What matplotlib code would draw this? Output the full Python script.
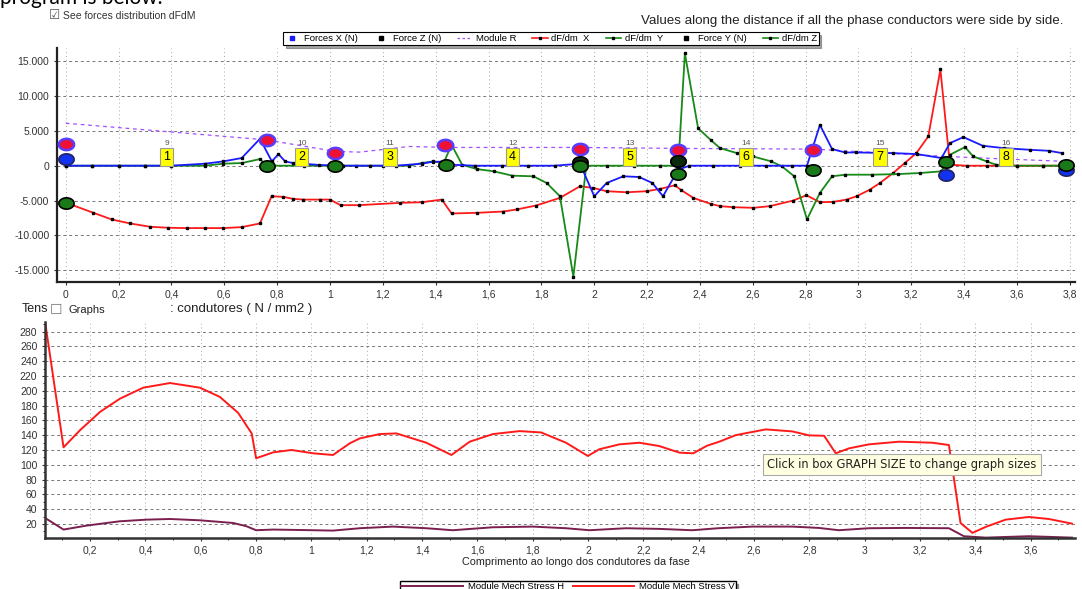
import matplotlib
matplotlib.use("Agg")
import matplotlib.pyplot as plt
from matplotlib.lines import Line2D
from matplotlib.ticker import FuncFormatter, MultipleLocator
import numpy as np

plt.rcParams['font.family'] = ['Liberation Sans', 'DejaVu Sans']

# ---- top chart: forces along the conductors ----
dfx_x = [0, 0.105, 0.174, 0.243, 0.319, 0.388, 0.458, 0.527, 0.596, 0.666, 0.735, 0.779,
         0.823, 0.861, 0.899, 0.962, 1.0, 1.04, 1.11, 1.265, 1.347, 1.423, 1.46, 1.555,
         1.656, 1.706, 1.78, 1.87, 1.946, 1.996, 2.047, 2.123, 2.198, 2.249, 2.305, 2.33,
         2.375, 2.44, 2.476, 2.526, 2.602, 2.665, 2.753, 2.803, 2.854, 2.904, 2.955, 2.993,
         3.043, 3.081, 3.131, 3.175, 3.219, 3.264, 3.31, 3.346, 3.409, 3.485, 3.6, 3.7, 3.787]
dfx_y = [-5300, -6760, -7710, -8280, -8760, -8900, -8950, -8950, -8950, -8810, -8280, -4380,
         -4470, -4760, -4860, -4860, -4860, -5660, -5660, -5330, -5240, -4860, -6850, -6760,
         -6570, -6280, -5710, -4620, -2950, -3190, -3660, -3810, -3660, -3330, -2810, -3520,
         -4620, -5470, -5800, -5950, -6040, -5800, -5000, -4240, -5240, -5190, -4860, -4380,
         -3430, -2480, -1050, 380, 1810, 4190, 13800, 140, 0, 0, 0, 0, 0]

dfy_x = [0, 0.1, 0.2, 0.3, 0.4, 0.527, 0.596, 0.666, 0.735, 0.76, 0.9, 1.0, 1.1, 1.2,
         1.3, 1.347, 1.39, 1.43, 1.46, 1.5, 1.555, 1.62, 1.69, 1.77, 1.82, 1.87, 1.921,
         1.97, 2.05, 2.15, 2.25, 2.318, 2.343, 2.393, 2.44, 2.476, 2.54, 2.6, 2.67, 2.71,
         2.757, 2.805, 2.854, 2.9, 2.95, 3.05, 3.15, 3.232, 3.314, 3.346, 3.403, 3.434,
         3.485, 3.52, 3.6, 3.7, 3.787]
dfy_y = [0, 0, 0, 0, 0, 0, 290, 380, 950, 0, 0, 0, 0, 0,
         0, 380, 620, 380, 3000, 140, -480, -810, -1430, -1520, -2480, -4380, -15900,
         0, 0, 0, 0, 0, 16100, 5380, 3710, 2520, 1810, 1330, 620, -100,
         -1520, -7710, -3900, -1520, -1290, -1290, -1200, -1050, -810, 1570, 2670, 1330,
         620, 140, 0, 0, 0]

dfz_x = [0, 0.1, 0.2, 0.3, 0.4, 0.527, 0.596, 0.666, 0.735, 0.78, 0.805, 0.83, 0.86,
         0.9, 0.96, 1.05, 1.15, 1.25, 1.347, 1.39, 1.42, 1.46, 1.55, 1.65, 1.75, 1.85,
         1.946, 2.0, 2.047, 2.11, 2.17, 2.22, 2.26, 2.318, 2.36, 2.45, 2.55, 2.65, 2.75,
         2.805, 2.854, 2.9, 2.95, 2.99, 3.13, 3.22, 3.314, 3.346, 3.397, 3.47, 3.55, 3.65,
         3.72, 3.77]
dfz_y = [0, 0, 0, 0, 0, 290, 620, 1100, 3860, 620, 1670, 620, 380,
         290, 100, 0, 0, 0, 290, 570, 570, 140, 0, 0, 0, 0,
         290, -4380, -2480, -1520, -1620, -2480, -4380, -570, 0, 0, 0, 0, 0,
         0, 5850, 2380, 1900, 1900, 1810, 1670, 1100, 3240, 4100, 2860, 2520, 2280,
         2140, 1810]

modr_x = [0, 0.38, 0.76, 1.02, 1.113, 1.3, 1.45, 1.946, 2.32, 2.83, 3.33, 3.56, 3.787]
modr_y = [6090, 4900, 3700, 2050, 1950, 2760, 2620, 2620, 2480, 2380, 1330, 950, 620]

red_ov_x = [0, 0.76, 1.02, 1.435, 1.946, 2.318, 2.829]
red_ov_y = [3050, 3620, 1810, 2900, 2380, 2190, 2280]
blue_ov_x = [0, 2.318, 3.333, 3.787]
blue_ov_y = [950, 620, -1290, -570]
green_ov_x = [0, 0.76, 1.02, 1.44, 1.946, 2.318, 2.829, 3.333, 3.787]
green_ov_y = [-5300, 0, 0, 140, 0, -1140, -570, 480, 140]
black_ov_x = [1.946, 2.318]
black_ov_y = [480, 620]

box_pos = [0.382, 0.893, 1.227, 1.691, 2.135, 2.574, 3.081, 3.558]
box_num = ['1', '2', '3', '4', '5', '6', '7', '8']
box_top = ['9', '10', '11', '12', '13', '14', '15', '16']

# ---- bottom chart: mechanical stress ----
sv_x = [0.0375, 0.104, 0.164, 0.236, 0.308, 0.392, 0.489, 0.597, 0.669, 0.735, 0.784,
        0.8, 0.862, 0.928, 1.006, 1.078, 1.138, 1.175, 1.247, 1.307, 1.415, 1.506, 1.572,
        1.656, 1.752, 1.83, 1.92, 1.999, 2.04, 2.113, 2.185, 2.257, 2.33, 2.38, 2.43,
        2.474, 2.534, 2.642, 2.738, 2.799, 2.853, 2.895, 2.943, 3.015, 3.124, 3.244,
        3.304, 3.346, 3.389, 3.437, 3.509, 3.593, 3.665, 3.749]
sv_y = [292.6, 123.6, 146.9, 171.5, 189.4, 204.2, 210.5, 204.2, 191.7, 170.2, 142.4,
        108.8, 116.8, 120, 115.5, 113.2, 128.9, 135.7, 141.5, 142.4, 129.8, 113.2, 131.2,
        141.5, 145.5, 143.7, 129.8, 111.9, 120.9, 127.6, 129.8, 125.3, 116.4, 115.5, 125.8,
        131.2, 140.1, 147.8, 145.1, 139.7, 139.2, 115.5, 122.2, 127.6, 131.2, 129.8,
        126.7, 21.3, 7.9, 16, 25.8, 29.4, 26.7, 20.4]

sh_x = [0.0375, 0.104, 0.188, 0.308, 0.404, 0.489, 0.597, 0.717, 0.765, 0.8, 0.862,
        1.006, 1.078, 1.175, 1.295, 1.415, 1.511, 1.656, 1.8, 1.92, 2.005, 2.137, 2.257,
        2.377, 2.47, 2.594, 2.738, 2.834, 2.906, 3.015, 3.148, 3.304, 3.358, 3.437,
        3.593, 3.749]
sh_y = [28, 12.4, 17.8, 23.6, 25.8, 26.7, 24.9, 21.3, 16.9, 11.5, 12.4,
        11.5, 11, 14.2, 16.4, 14.2, 11.5, 15.5, 16.4, 14.2, 11.5, 14.2, 13.3,
        11.5, 14.2, 16.4, 16.4, 14.6, 11.5, 14.2, 14.6, 14.2, 3.4, 1.5,
        3.4, 1.5]

RED = '#ff1a1a'
GREEN = '#178a17'
BLUE = '#1a1aff'
PURPLE = '#a050ff'
MAROON = '#7a1f4f'

fig = plt.figure(figsize=(10.82, 5.89), dpi=100)
ax1 = fig.add_axes([0.0527, 0.521, 0.941, 0.3977])
ax2 = fig.add_axes([0.0416, 0.0866, 0.952, 0.3667])

comma = FuncFormatter(lambda v, p: ('%g' % round(v, 2)).replace('.', ','))
thousands = FuncFormatter(lambda v, p: '{:,.0f}'.format(v).replace(',', '.') if v != 0 else '0')

mk = dict(marker='s', markersize=2.0, markerfacecolor='black', markeredgecolor='black')
ax1.plot(modr_x, modr_y, color=PURPLE, lw=0.9, ls=(0, (3, 3)))
ax1.plot(dfx_x, dfx_y, color=RED, lw=1.3, **mk)
ax1.plot(dfy_x, dfy_y, color=GREEN, lw=1.3, **mk)
ax1.plot(dfz_x, dfz_y, color=BLUE, lw=1.3, **mk)

t = np.linspace(0, 2 * np.pi, 40)
oval = np.column_stack([1.35 * np.cos(t), np.sin(t)])
ax1.plot(red_ov_x, red_ov_y, ls='none', marker=oval, markersize=11, mfc='#ee1133', mec='#5a3cff', mew=1.8, zorder=5)
ax1.plot(blue_ov_x, blue_ov_y, ls='none', marker=oval, markersize=11, mfc='#1133ee', mec='#222266', mew=1.2, zorder=5)
ax1.plot(black_ov_x, black_ov_y, ls='none', marker=oval, markersize=11, mfc='#0a2a0a', mec='black', mew=1.2, zorder=5)
ax1.plot(green_ov_x, green_ov_y, ls='none', marker=oval, markersize=11, mfc='#1a7a1a', mec='black', mew=1.2, zorder=6)

for p, n, tp in zip(box_pos, box_num, box_top):
    ax1.text(p, 1300, n, ha='center', va='center', fontsize=9, zorder=4,
             bbox=dict(boxstyle='square,pad=0.25', fc='#ffff00', ec='#999999', lw=0.8))
    ax1.text(p, 3200, tp, ha='center', va='center', fontsize=6, color='#555555', zorder=4)

ax1.set_xlim(-0.033, 3.82)
ax1.set_ylim(-16700, 16900)
ax1.xaxis.set_major_locator(MultipleLocator(0.2))
ax1.yaxis.set_major_locator(MultipleLocator(5000))
ax1.xaxis.set_major_formatter(comma)
ax1.yaxis.set_major_formatter(thousands)
ax1.grid(True, axis='y', color='#777777', ls=(0, (3, 3)), lw=0.7)
ax1.grid(True, axis='x', color='#aaaaaa', ls=(0, (1, 3)), lw=0.7)
ax1.tick_params(labelsize=7.5, length=2, colors='#333333')
for s in ['top', 'right']:
    ax1.spines[s].set_visible(False)
for s in ['left', 'bottom']:
    ax1.spines[s].set_linewidth(1.6)
    ax1.spines[s].set_color('#222222')

handles = [
    Line2D([], [], ls='none', marker='s', ms=3, color=BLUE, label='Forces X (N)'),
    Line2D([], [], ls='none', marker='s', ms=3, color='black', label='Force Z (N)'),
    Line2D([], [], color=PURPLE, ls=(0, (2, 2)), lw=0.9, label='Module R'),
    Line2D([], [], color=RED, lw=1.2, marker='s', ms=2, mfc='black', mec='black', label='dF/dm  X'),
    Line2D([], [], color=GREEN, lw=1.2, marker='s', ms=2, mfc='black', mec='black', label='dF/dm  Y'),
    Line2D([], [], ls='none', marker='s', ms=3, color='black', label='Force Y (N)'),
    Line2D([], [], color=GREEN, lw=1.2, marker='s', ms=2, mfc='black', mec='black', label='dF/dm Z'),
]
leg1 = fig.legend(handles=handles, loc='center', bbox_to_anchor=(0.509, 0.934), ncol=7,
                  fontsize=6.8, frameon=True, fancybox=False, shadow=True, handlelength=1.6,
                  handletextpad=0.4, columnspacing=1.7, borderpad=0.2)
leg1.get_frame().set_edgecolor('black')
leg1.get_frame().set_linewidth(0.8)

# bottom chart
ax2.plot(sh_x, sh_y, color=MAROON, lw=1.4)
ax2.plot(sv_x, sv_y, color=RED, lw=1.4)
ax2.xaxis.set_major_locator(MultipleLocator(0.2))
ax2.xaxis.set_minor_locator(MultipleLocator(0.1))
ax2.yaxis.set_minor_locator(MultipleLocator(10))
ax2.set_yticks(np.arange(20, 281, 20))
ax2.set_xlim(0.037, 3.76)
ax2.set_ylim(1, 293)
ax2.xaxis.set_major_formatter(comma)
ax2.grid(True, axis='y', color='#777777', ls=(0, (3, 3)), lw=0.7)
ax2.grid(True, axis='x', color='#aaaaaa', ls=(0, (1, 3)), lw=0.7)
ax2.tick_params(labelsize=7.5, length=2, colors='#333333')
ax2.tick_params(which='minor', length=1.5)
for s in ['top', 'right']:
    ax2.spines[s].set_visible(False)
for s in ['left', 'bottom']:
    ax2.spines[s].set_linewidth(1.8)
    ax2.spines[s].set_color('#333333')
ax2.set_xlabel('Comprimento ao longo dos condutores da fase', fontsize=7.8, color='#222222')
ax2.xaxis.set_label_coords(0.515, -0.09)

leg2 = fig.legend(handles=[Line2D([], [], color=MAROON, lw=1.4, label='Module Mech Stress H'),
                           Line2D([], [], color=RED, lw=1.4, label='Module Mech Stress V')],
                  loc='upper center', bbox_to_anchor=(0.525, 0.021), ncol=2, fontsize=6.8,
                  frameon=True, fancybox=False, shadow=True, handlelength=6.5,
                  handletextpad=0.5, columnspacing=1.0, borderpad=0.1)
leg2.get_frame().set_edgecolor('black')

# window texts
fig.text(0.0, 0.993, 'program is below.', fontsize=15, va='baseline', ha='left', family=['Lato', 'DejaVu Sans'])
fig.text(0.0455, 0.973, '\u2611', fontsize=9, va='center', ha='left', family=['DejaVu Sans'], color='#555555')
fig.text(0.0585, 0.972, 'See forces distribution dFdM', fontsize=7.5, va='center', ha='left', color='#333333')
fig.text(0.9825, 0.964, 'Values along the distance if all the phase conductors were side by side.',
         fontsize=9.6, va='center', ha='right', color='#222222')
fig.text(0.0203, 0.475, 'Tens', fontsize=9, va='center', ha='left', color='#222222')
fig.text(0.046, 0.474, '\u2610', fontsize=10, va='center', ha='left', family=['DejaVu Sans'], color='#777777')
fig.text(0.063, 0.473, 'Graphs', fontsize=8, va='center', ha='left', color='#222222')
fig.text(0.157, 0.476, ': condutores ( N / mm2 )', fontsize=9.5, va='center', ha='left', color='#222222')
fig.text(0.709, 0.211, 'Click in box GRAPH SIZE to change graph sizes', fontsize=8.3, va='center', ha='left',
         family=['DejaVu Sans'], color='#222222',
         bbox=dict(boxstyle='square,pad=0.35', fc='#ffffe1', ec='#aaaaaa', lw=0.8))

fig.savefig('out.png', dpi=100)
